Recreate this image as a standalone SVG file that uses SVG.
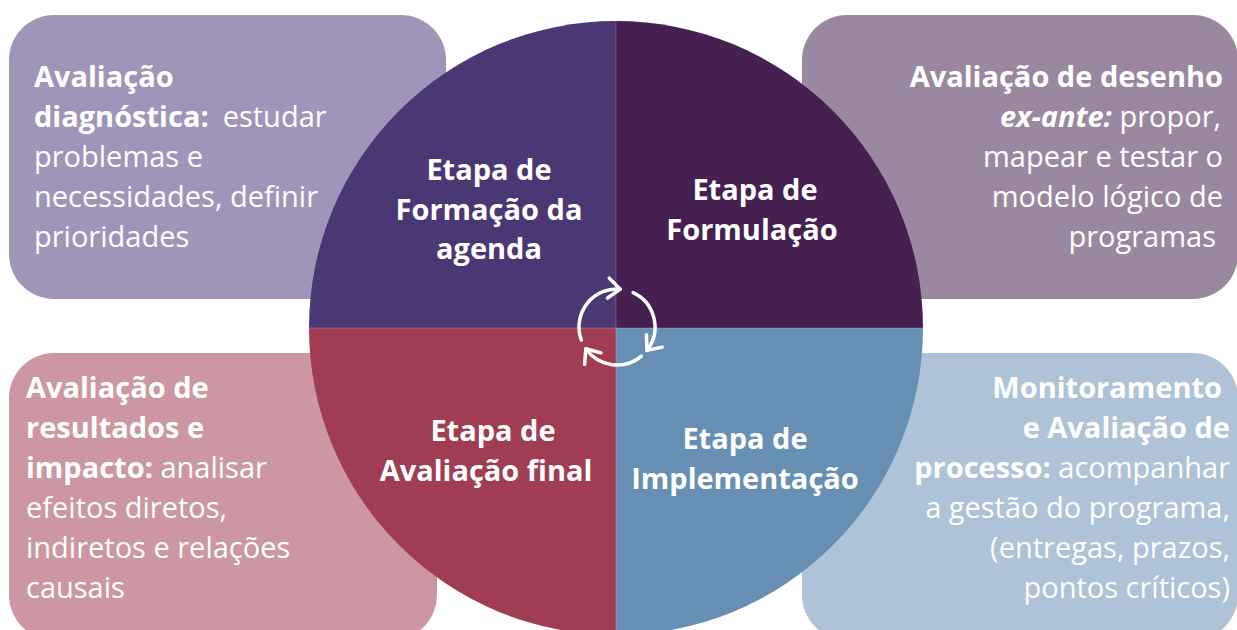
<svg xmlns="http://www.w3.org/2000/svg" width="1237" height="630" viewBox="0 0 1237 630">
<style>
.t{font-family:"Open Sans","Noto Sans","Liberation Sans",sans-serif;font-size:29px;fill:#FFFFFF}
.b{font-weight:700}
.r{font-weight:400}
.lab{font-family:"Open Sans","Noto Sans","Liberation Sans",sans-serif;font-size:29px;font-weight:700;fill:#FFFFFF;text-anchor:middle}
.cyc{fill:none;stroke:#FFFFFF;stroke-width:3.5;stroke-linecap:round;marker-end:url(#chev)}
</style>
<defs>
<marker id="chev" markerUnits="userSpaceOnUse" markerWidth="30" markerHeight="30" viewBox="-15 -15 30 30" refX="0" refY="0" orient="auto" overflow="visible">
<path d="M-12,-10 L0,0 L-12,10" fill="none" stroke="#FFFFFF" stroke-width="3.5" stroke-linecap="round" stroke-linejoin="round"/>
</marker>
</defs>
<rect width="1237" height="630" fill="#FFFFFF"/>

<g id="box-diagnostica">
<rect x="9" y="15" width="437" height="284" rx="45" fill="#A095B8"/>
<text class="t" x="34" y="87"><tspan class="b">Avaliação</tspan></text>
<text class="t" x="34" y="127"><tspan class="b">diagnóstica:</tspan><tspan class="r" dx="14">estudar</tspan></text>
<text class="t r" x="34" y="167">problemas e</text>
<text class="t r" x="34" y="207">necessidades, definir</text>
<text class="t r" x="34" y="247">prioridades</text>
</g>

<g id="box-exante">
<rect x="802" y="15" width="436" height="284" rx="45" fill="#9A88A0"/>
<text class="t" x="1223" y="87" text-anchor="end"><tspan class="b">Avaliação de desenho</tspan></text>
<text class="t" x="1221" y="127" text-anchor="end"><tspan class="b" font-style="italic">ex-ante:</tspan><tspan class="r"> propor,</tspan></text>
<text class="t r" x="1223" y="167" text-anchor="end">mapear e testar o</text>
<text class="t r" x="1223" y="207" text-anchor="end">modelo lógico de</text>
<text class="t r" x="1216" y="247" text-anchor="end">programas</text>
</g>

<g id="box-resultados">
<rect x="9" y="353" width="428" height="287" rx="45" fill="#CC97A2"/>
<text class="t" x="26" y="398"><tspan class="b">Avaliação de</tspan></text>
<text class="t" x="26" y="438"><tspan class="b">resultados e</tspan></text>
<text class="t" x="26" y="478"><tspan class="b">impacto:</tspan><tspan class="r"> analisar</tspan></text>
<text class="t r" x="26" y="518">efeitos diretos,</text>
<text class="t r" x="26" y="558">indiretos e relações</text>
<text class="t r" x="26" y="598">causais</text>
</g>

<g id="box-processo">
<rect x="802" y="353" width="436" height="287" rx="45" fill="#AEC3D7"/>
<text class="t" x="1222" y="398" text-anchor="end"><tspan class="b">Monitoramento</tspan></text>
<text class="t" x="1230" y="438" text-anchor="end"><tspan class="b">e Avaliação de</tspan></text>
<text class="t" x="1230" y="478" text-anchor="end"><tspan class="b">processo:</tspan><tspan class="r"> acompanhar</tspan></text>
<text class="t r" x="1230" y="518" text-anchor="end">a gestão do programa,</text>
<text class="t r" x="1230" y="558" text-anchor="end">(entregas, prazos,</text>
<text class="t r" x="1230" y="598" text-anchor="end">pontos críticos)</text>
</g>

<g id="etapa-agenda">
<path d="M616,328 L309,328 A307,307 0 0 1 616,21 Z" fill="#4B3773"/>
<text class="lab" x="489" y="180">Etapa de</text>
<text class="lab" x="489" y="220">Formação da</text>
<text class="lab" x="489" y="259">agenda</text>
</g>

<g id="etapa-formulacao">
<path d="M616,328 L616,21 A307,307 0 0 1 923,328 Z" fill="#452050"/>
<text class="lab" x="755" y="200">Etapa de</text>
<text class="lab" x="752" y="240">Formulação</text>
</g>

<g id="etapa-implementacao">
<path d="M616,328 L923,328 A307,307 0 0 1 616,635 Z" fill="#678EB3"/>
<text class="lab" x="745" y="449">Etapa de</text>
<text class="lab" x="745" y="489">Implementação</text>
</g>

<g id="etapa-avaliacao-final">
<path d="M616,328 L616,635 A307,307 0 0 1 309,328 Z" fill="#A03D52"/>
<text class="lab" x="493" y="441">Etapa de</text>
<text class="lab" x="486" y="481">Avaliação final</text>
</g>

<g id="connectors">
<path d="M309,328 L923,328 M616,21 L616,630" stroke="#FFFFFF" stroke-opacity="0.22" stroke-width="1" fill="none"/>
<path class="cyc" d="M581.29,340 A38,38 0 0 1 620.31,289.14"/>
<path class="cyc" d="M633.06,292.56 A38,38 0 0 1 646.94,350.4"/>
<path class="cyc" d="M641.43,356.11 A38,38 0 0 1 585.87,348.8"/>
</g>
</svg>
